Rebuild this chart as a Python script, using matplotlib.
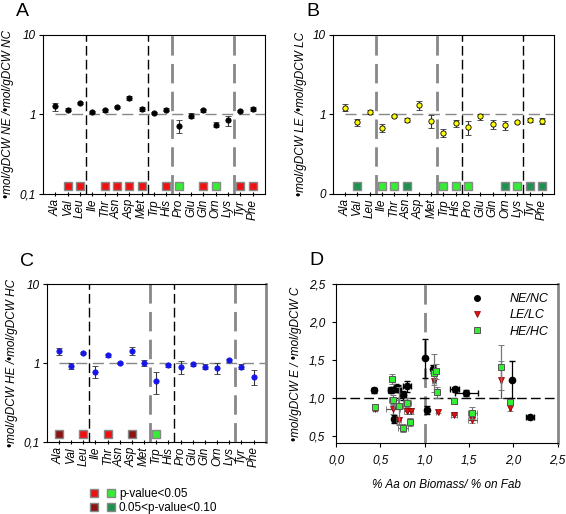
import numpy as np
import matplotlib
matplotlib.use("Agg")
import matplotlib.pyplot as plt
from matplotlib.lines import Line2D
from matplotlib.legend_handler import HandlerTuple

plt.rcParams['font.family'] = ['Liberation Sans', 'DejaVu Sans']

# %% data
amino = ['Ala', 'Val', 'Leu', 'Ile', 'Thr', 'Asn', 'Asp', 'Met', 'Trp', 'His',
         'Pro', 'Glu', 'Gln', 'Orn', 'Lys', 'Tyr', 'Phe']

ne_nc = [1.26, 1.14, 1.40, 1.07, 1.13, 1.24, 1.60, 1.17, 1.04, 1.14,
         0.72, 0.96, 1.12, 0.74, 0.84, 1.10, 1.17]
ne_nc_err = [0.15, 0.05, 0.04, 0.04, 0.05, 0.04, 0.10, 0.06, 0.03, 0.05,
             0.13, 0.07, 0.04, 0.05, 0.12, 0.04, 0.07]
ne_nc_sig = ['', 'r', 'r', '', 'r', 'r', 'r', 'r', '', 'r',
             'g', '', 'r', 'g', '', 'r', 'r']

le_lc = [1.22, 0.80, 1.07, 0.68, 0.95, 0.85, 1.31, 0.83, 0.59, 0.77,
         0.69, 0.94, 0.75, 0.73, 0.80, 0.85, 0.83]
le_lc_err = [0.13, 0.08, 0.05, 0.08, 0.03, 0.06, 0.18, 0.15, 0.07, 0.07,
             0.14, 0.08, 0.10, 0.10, 0.02, 0.06, 0.07]
le_lc_sig = ['', 'dg', '', 'g', 'g', 'dg', '', '', 'g', 'g',
             'g', '', '', 'dg', 'g', 'dg', 'dg']

he_hc = [1.41, 0.92, 1.35, 0.78, 1.26, 1.00, 1.43, 1.00, 0.59, 0.94,
         0.89, 0.96, 0.90, 0.86, 1.08, 0.90, 0.67]
he_hc_err = [0.15, 0.08, 0.04, 0.13, 0.05, 0.04, 0.15, 0.08, 0.19, 0.04,
             0.16, 0.03, 0.07, 0.13, 0.05, 0.07, 0.15]
he_hc_sig = ['dr', '', 'r', '', 'r', '', 'dr', '', 'g', '',
             '', '', '', '', '', '', '']

# panel D: ratio vs biomass/Fab composition
d_ne_x = [0.426, 0.618, 0.678, 0.70, 0.757, 0.80, 0.655, 1.006, 1.088, 1.03, 1.337, 1.47, 1.99, 2.19]
d_ne_y = [1.096, 1.106, 1.13, 1.12, 1.03, 1.15, 0.72, 1.52, 1.38, 0.84, 1.11, 1.06, 1.24, 0.74]
d_ne_yerr = [0.03, 0.04, 0.05, 0.05, 0.06, 0.07, 0.05, 0.26, 0.05, 0.05, 0.03, 0.04, 0.25, 0.02]
d_ne_xerr = [0.02, 0.03, 0.03, 0.03, 0.03, 0.04, 0.03, 0.01, 0.02, 0.01, 0.05, 0.13, 0.01, 0.05]

d_le_x = [0.44, 0.644, 0.705, 0.80, 0.84, 1.107, 1.145, 1.33, 1.537, 1.864, 1.966]
d_le_y = [0.85, 0.845, 0.70, 0.82, 0.82, 1.225, 0.815, 0.775, 0.70, 1.24, 0.87]
d_le_yerr = [0.03, 0.06, 0.05, 0.04, 0.04, 0.06, 0.02, 0.03, 0.04, 0.25, 0.04]
d_le_xerr = [0.02, 0.08, 0.03, 0.03, 0.03, 0.02, 0.02, 0.03, 0.05, 0.01, 0.01]

d_he_x = [0.44, 0.633, 0.644, 0.705, 0.754, 0.80, 0.836, 1.107, 1.13, 1.137, 1.33, 1.537, 1.864, 1.966]
d_he_y = [0.88, 1.246, 0.97, 0.89, 0.60, 0.934, 0.68, 1.33, 1.35, 1.07, 0.95, 0.80, 1.40, 0.94]
d_he_yerr = [0.04, 0.07, 0.06, 0.25, 0.05, 0.06, 0.05, 0.25, 0.10, 0.07, 0.04, 0.08, 0.30, 0.03]
d_he_xerr = [0.02, 0.02, 0.05, 0.05, 0.06, 0.04, 0.02, 0.02, 0.02, 0.02, 0.03, 0.05, 0.01, 0.01]

sig_colors = {'r': '#ee1111', 'dr': '#8b1414', 'g': '#33ee33', 'dg': '#1f9050'}

# dividers: (position, kind) kind 'k' black thin, 'g' grey thick
div_a = [(2.5, 'k'), (7.5, 'k'), (9.5, 'g'), (14.5, 'g')]
div_b = [(2.5, 'g'), (7.5, 'g'), (9.5, 'k'), (14.5, 'k')]
div_c = [(2.5, 'k'), (7.5, 'g'), (9.5, 'k'), (14.5, 'g')]

FS = 8.5
fig = plt.figure(figsize=(5.66, 5.14), dpi=100)


def ratio_panel(rect, vals, errs, sig, divs, face, edge, ylabel, letter, low_label, grey_right=False):
    ax = fig.add_axes(rect)
    x = np.arange(len(amino))
    ax.set_yscale('log')
    ax.set_ylim(0.1, 10)
    ax.set_xlim(-1, 17)
    ax.plot([0, 17], [1, 1], color='#888888', lw=1, dashes=(8, 4), zorder=1)
    for pos, kind in divs:
        if kind == 'k':
            ax.axvline(pos, color='black', lw=1, dashes=(7, 3), zorder=1)
        else:
            ax.axvline(pos, color='#888888', lw=2, dashes=(7, 3), zorder=1)
    ax.errorbar(x, vals, yerr=errs, fmt='o', ms=3.8, mfc=face, mec=edge, mew=0.6,
                ecolor='#333333', elinewidth=0.8, capsize=2.5, capthick=0.8, zorder=3)
    for i, s in enumerate(sig):
        if s:
            ax.plot(x[i], 0.125, 's', ms=5.2, mfc=sig_colors[s], mec='#888888', mew=1, zorder=3)
    ax.set_xticks(x)
    ax.set_xticklabels(amino, rotation=90, style='italic', fontsize=FS)
    ax.set_yticks([0.1, 1, 10])
    ax.set_yticklabels([low_label, '1', '10'], style='italic', fontsize=FS)
    ax.yaxis.set_minor_locator(matplotlib.ticker.NullLocator())
    ax.tick_params(axis='x', direction='inout', length=3, pad=2)
    ax.tick_params(axis='y', direction='out', length=3, pad=2)
    for sp in ax.spines.values():
        sp.set_linewidth(0.8)
    if grey_right:
        ax.spines['right'].set_color('#888888')
        ax.spines['right'].set_linewidth(2)
    ax.set_ylabel(ylabel, style='italic', fontsize=FS, labelpad=4)
    ax.text(-0.12, 1.2, letter, transform=ax.transAxes, fontsize=14, va='top')
    return ax


ratio_panel([0.076, 0.623, 0.392, 0.309], ne_nc, ne_nc_err, ne_nc_sig, div_a,
            'black', 'black', '\u2022mol/gDCW NE /\u2022mol/gDCW NC', 'A', '0,1')
ratio_panel([0.588, 0.623, 0.391, 0.309], le_lc, le_lc_err, le_lc_sig, div_b,
            '#ffff00', 'black', '\u2022mol/gDCW LE /\u2022mol/gDCW LC', 'B', '0')
ratio_panel([0.0825, 0.1407, 0.387, 0.306], he_hc, he_hc_err, he_hc_sig, div_c,
            '#1515e6', '#1515e6', '\u2022mol/gDCW HE /\u2022mol/gDCW HC', 'C', '0,1',
            grey_right=True)

# %% panel D
axd = fig.add_axes([0.594, 0.138, 0.391, 0.309])
axd.set_xlim(0, 2.5)
axd.set_ylim(0.4, 2.5)
axd.axvline(1.0, color='#888888', lw=2, dashes=(7, 3), zorder=1)
axd.axhline(1.0, color='black', lw=1, dashes=(7, 3), zorder=1)
axd.errorbar(d_ne_x, d_ne_y, yerr=d_ne_yerr, xerr=d_ne_xerr, fmt='o', ms=4.5,
             mfc='black', mec='black', ecolor='black', elinewidth=0.9, capsize=2, zorder=3)
axd.errorbar(d_le_x, d_le_y, yerr=d_le_yerr, xerr=d_le_xerr, fmt='v', ms=4.5,
             mfc='#dd1111', mec='#880000', mew=0.5, ecolor='#555555', elinewidth=0.9,
             capsize=2, zorder=4)
axd.errorbar(d_he_x, d_he_y, yerr=d_he_yerr, xerr=d_he_xerr, fmt='s', ms=4.5,
             mfc='#33ee33', mec='#555555', mew=0.7, ecolor='#777777', elinewidth=0.9,
             capsize=2, zorder=5)
axd.set_xticks([0, 0.5, 1.0, 1.5, 2.0, 2.5])
axd.set_xticklabels(['0,0', '0,5', '1,0', '1,5', '2,0', '2,5'], style='italic', fontsize=FS)
axd.set_yticks([0.5, 1.0, 1.5, 2.0, 2.5])
axd.set_yticklabels(['0,5', '1,0', '1,5', '2,0', '2,5'], style='italic', fontsize=FS)
axd.tick_params(direction='out', length=3, pad=5)
for sp in axd.spines.values():
    sp.set_linewidth(0.8)
axd.spines['right'].set_color('#888888')
axd.spines['right'].set_linewidth(2)
axd.set_xlabel('% Aa on Biomass/ % on Fab', style='italic', fontsize=FS, labelpad=9)
axd.set_ylabel('\u2022mol/gDCW E / \u2022mol/gDCW C', style='italic', fontsize=FS, labelpad=5)
d_handles = [Line2D([], [], marker='o', ls='none', ms=4, mfc='black', mec='black'),
             Line2D([], [], marker='v', ls='none', ms=4, mfc='#dd1111', mec='#880000', mew=0.5),
             Line2D([], [], marker='s', ls='none', ms=4, mfc='#33ee33', mec='#555555', mew=0.7)]
leg = axd.legend(d_handles, ['NE/NC', 'LE/LC', 'HE/HC'], loc='upper right', frameon=False,
                 fontsize=9, handletextpad=1.6, borderaxespad=0.3, labelspacing=0.35)
for t in leg.get_texts():
    t.set_style('italic')
axd.text(-0.12, 1.2, 'D', transform=axd.transAxes, fontsize=14, va='top')

# %% significance legend
sq = dict(marker='s', ls='none', ms=6, mec='#888888', mew=1)
h1 = (Line2D([], [], mfc=sig_colors['r'], **sq), Line2D([], [], mfc=sig_colors['g'], **sq))
h2 = (Line2D([], [], mfc=sig_colors['dr'], **sq), Line2D([], [], mfc=sig_colors['dg'], **sq))
fig.legend([h1, h2], ['p-value<0.05', '0.05<p-value<0.10'],
           handler_map={tuple: HandlerTuple(ndivide=None, pad=0.9)},
           loc='center left', bbox_to_anchor=(80 / 566, 1 - 501 / 514),
           frameon=False, fontsize=FS, handlelength=2.0, handletextpad=0.4,
           labelspacing=0.2)

fig.savefig('out.png', dpi=100)
